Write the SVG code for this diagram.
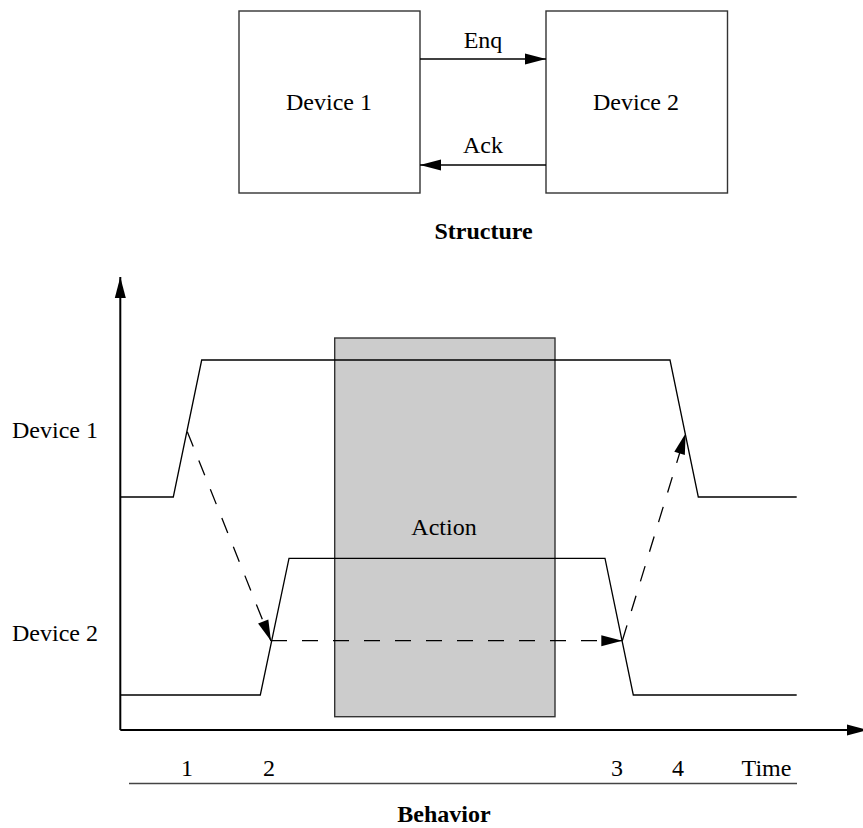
<svg xmlns="http://www.w3.org/2000/svg" width="863" height="828" viewBox="0 0 863 828">
<defs>
<marker id="ah" markerUnits="userSpaceOnUse" markerWidth="22" markerHeight="12" refX="21" refY="5.5" orient="auto" overflow="visible">
<path d="M0,0 L21,5.5 L0,11 z" fill="#000"/>
</marker>
</defs>
<style>
text{font-family:"Liberation Serif","Times New Roman",serif;font-size:24px;fill:#000}
.b{font-weight:bold}
.m{text-anchor:middle}
.box{fill:#fff;stroke:#333;stroke-width:1.4}
.ln{fill:none;stroke:#000;stroke-width:1.3}
.ds{fill:none;stroke:#000;stroke-width:1.3;stroke-dasharray:16 15}
.ax{fill:none;stroke:#000;stroke-width:2}
</style>
<rect width="863" height="828" fill="#fff"/>
<g id="device1">
<rect class="box" x="239" y="11" width="181" height="182"/>
<text class="m" x="329" y="110">Device 1</text>
</g>
<g id="device2">
<rect class="box" x="546" y="11" width="181.5" height="182"/>
<text class="m" x="636" y="110">Device 2</text>
</g>
<g id="connectors">
<line class="ln" x1="420" y1="59" x2="546" y2="59" marker-end="url(#ah)"/>
<line class="ln" x1="546" y1="165" x2="420" y2="165" marker-end="url(#ah)"/>
</g>
<g id="labels-top">
<text class="m" x="483" y="48">Enq</text>
<text class="m" x="483" y="153">Ack</text>
<text class="m b" x="483.5" y="239">Structure</text>
</g>
<g id="behavior">
<rect id="action" x="334.7" y="338" width="220.3" height="378.7" fill="#ccc" stroke="#333" stroke-width="1.4"/>
<text class="m" x="444" y="535">Action</text>
<polyline class="ln" points="120,497 173.3,497 201.7,360 670,360 698.3,497 796.7,497"/>
<polyline class="ln" points="120,695 260.3,695 289,558.3 605,558.3 633.3,695 796.7,695"/>
<line class="ds" x1="187.3" y1="431.7" x2="271" y2="641" marker-end="url(#ah)"/>
<line class="ds" x1="271" y1="640.7" x2="622.3" y2="640.7" marker-end="url(#ah)"/>
<line class="ds" x1="622.3" y1="640.7" x2="685.7" y2="433.3" marker-end="url(#ah)"/>
<line class="ax" x1="120.3" y1="730" x2="120.3" y2="277" marker-end="url(#ah)" stroke-width="1.6"/>
<line class="ax" x1="120.3" y1="730" x2="868" y2="730" marker-end="url(#ah)"/>
<text x="12" y="438">Device 1</text>
<text x="12" y="641">Device 2</text>
<text class="m" x="187" y="776">1</text>
<text class="m" x="269" y="776">2</text>
<text class="m" x="617" y="776">3</text>
<text class="m" x="678" y="776">4</text>
<text class="m" x="766.5" y="776">Time</text>
<line x1="129" y1="783.5" x2="797" y2="783.5" stroke="#444" stroke-width="1.4"/>
<text class="m b" x="444" y="822">Behavior</text>
</g>
</svg>
